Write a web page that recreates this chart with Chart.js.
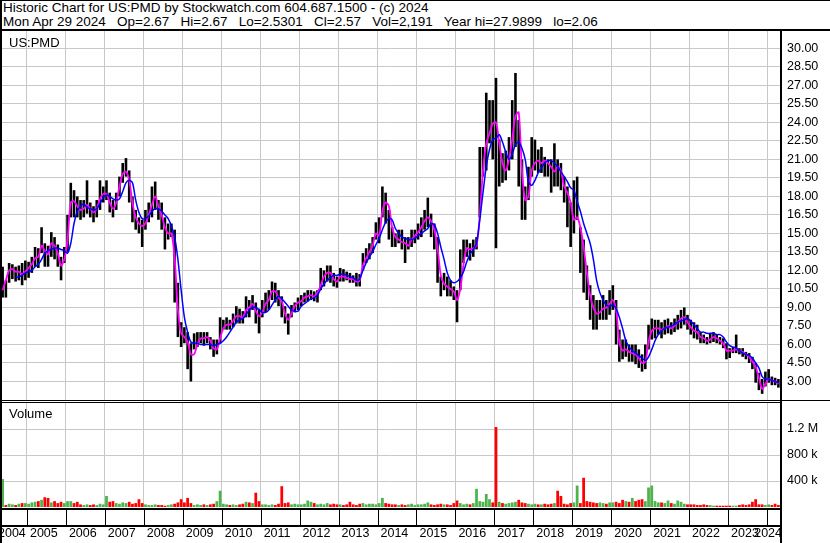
<!DOCTYPE html>
<html>
<head>
<meta charset="utf-8">
<script src="https://cdn.jsdelivr.net/npm/chart.js@4.4.1/dist/chart.umd.min.js"></script>
<style>
  body { margin: 0; background: #fff; }
  #wrap { position: relative; width: 830px; height: 543px; overflow: hidden; background: #fff;
          font-family: "Liberation Sans", Arial, sans-serif; color: #000; }
  .hdr { position: absolute; left: 3px; font-size: 13.5px; line-height: 14px; white-space: pre; }
  .lbl { position: absolute; left: 9px; font-size: 13px; line-height: 15px; white-space: pre; }
  .ln { position: absolute; background: #000; }
  canvas { position: absolute; left: 0; }
</style>
</head>
<body>
<div id="wrap">
  <div class="hdr" style="top:1px">Historic Chart for US:PMD by Stockwatch.com 604.687.1500 - (c) 2024</div>
  <div class="hdr" style="top:15px">Mon Apr 29 2024   Op=2.67   Hi=2.67   Lo=2.5301   Cl=2.57   Vol=2,191   Year hi=27.9899   lo=2.06</div>

  <canvas id="priceChart" width="830" height="369" style="top:31px"></canvas>
  <canvas id="volumeChart" width="830" height="140" style="top:403px"></canvas>

  <div class="lbl" style="top:35px">US:PMD</div>
  <div class="lbl" style="top:406px">Volume</div>

  <!-- frame lines -->
  <div class="ln" style="left:0;top:0;width:830px;height:1px"></div>
  <div class="ln" style="left:0;top:0;width:2px;height:543px"></div>
  <div class="ln" style="left:0;top:29px;width:830px;height:2px"></div>
  <div class="ln" style="left:780px;top:30px;width:2px;height:513px"></div>
  <div class="ln" style="left:0;top:400px;width:830px;height:1px"></div>
  <div class="ln" style="left:0;top:402px;width:782px;height:1px"></div>
  <div class="ln" style="left:0;top:508px;width:782px;height:2px"></div>
  <div class="ln" style="left:0;top:525px;width:782px;height:2px"></div>
</div>

<script>
// monthly bars, May 2004 .. Apr 2024
const startYear = 2004;
const startMonth = 4; // May

// Monthly high
const hi = [
  12.3, 11.2, 12.6, 12.5, 12.3, 12.4, 12.6, 12.8,                         // 2004
  12.7, 13.1, 13.9, 13.8, 15.5, 14.2, 14.0, 15.1, 14.7, 14.1, 13.1, 13.9, // 2005
  16.5, 19.1, 18.5, 18.0, 17.7, 17.7, 19.3, 17.5, 17.2, 17.7, 19.3, 18.8, // 2006
  19.3, 18.3, 17.7, 18.3, 19.6, 20.7, 21.1, 20.1, 18.0, 16.9, 16.3, 16.1, // 2007
  16.9, 17.5, 18.8, 19.2, 17.7, 17.5, 16.3, 15.8, 15.8, 15.3, 11.0, 7.8,  // 2008
  7.4, 7.0, 6.1, 6.9, 7.0, 7.0, 7.0, 7.0, 6.6, 6.4, 6.4, 8.2,             // 2009
  8.0, 8.2, 8.0, 8.5, 9.1, 8.9, 8.7, 9.9, 9.6, 10.0, 9.4, 8.9,            // 2010
  9.6, 10.2, 10.4, 11.1, 11.0, 10.4, 9.9, 9.1, 8.5, 9.2, 9.4, 9.8,        // 2011
  10.0, 10.2, 10.4, 10.4, 10.3, 10.4, 12.2, 12.0, 12.4, 12.4, 11.8, 11.5, // 2012
  12.2, 12.1, 11.9, 11.8, 11.6, 11.8, 11.7, 13.4, 13.8, 14.2, 14.7, 15.9, // 2013
  16.3, 18.8, 18.3, 16.9, 15.5, 15.0, 15.3, 15.3, 14.7, 14.7, 15.3, 15.3, // 2014
  15.8, 16.3, 16.9, 17.9, 16.6, 15.8, 14.7, 11.5, 11.8, 11.5, 11.2, 10.7, // 2015
  10.4, 13.7, 14.5, 14.5, 14.2, 14.5, 14.7, 22.0, 22.0, 26.4, 25.8, 25.8, // 2016
  27.6, 22.6, 21.5, 21.7, 22.8, 25.8, 28.0, 24.2, 21.0, 18.8, 20.4, 22.8, // 2017
  22.6, 21.8, 22.0, 21.2, 21.0, 21.0, 22.3, 21.0, 20.7, 19.6, 18.8, 17.5, // 2018
  19.3, 19.6, 15.5, 14.5, 12.4, 10.8, 10.0, 9.6, 9.6, 10.0, 9.6, 10.4,    // 2019
  10.8, 9.6, 7.2, 6.4, 6.4, 6.0, 6.0, 6.0, 5.6, 5.2, 6.0, 7.6,            // 2020
  8.1, 8.0, 8.0, 7.8, 8.0, 8.1, 7.8, 8.1, 8.4, 8.8, 9.0, 8.4,             // 2021
  8.0, 7.8, 7.6, 7.0, 6.8, 6.6, 6.9, 7.0, 6.8, 6.6, 6.5, 6.1,             // 2022
  5.7, 5.8, 6.8, 5.7, 5.7, 5.4, 5.3, 5.0, 4.5, 3.7, 3.2, 3.8,             // 2023
  4.0, 3.4, 3.3, 3.2                                                      // 2024
];

// Monthly low
const lo = [
  9.8, 9.8, 11.0, 11.3, 11.1, 11.2, 10.8, 11.2,
  11.4, 11.8, 12.3, 12.2, 13.4, 12.3, 12.3, 13.1, 12.9, 12.3, 11.2, 12.6,
  13.5, 16.3, 16.3, 16.3, 16.1, 16.3, 16.6, 16.3, 15.9, 16.3, 16.9, 17.5,
  17.7, 16.7, 16.3, 16.9, 18.0, 19.1, 19.6, 17.5, 15.9, 15.3, 15.0, 13.9,
  15.3, 15.9, 16.3, 16.9, 16.1, 15.3, 13.7, 14.5, 14.7, 9.4, 6.6, 5.8,
  6.1, 4.0, 3.0, 5.6, 5.8, 6.1, 5.9, 6.1, 5.6, 5.0, 5.2, 6.1,
  7.2, 7.2, 7.2, 7.4, 7.7, 7.7, 7.7, 8.2, 8.2, 8.8, 7.7, 6.9,
  8.2, 8.6, 8.8, 9.6, 9.4, 9.1, 8.2, 7.7, 6.8, 8.2, 8.6, 8.8,
  9.1, 9.4, 9.5, 9.6, 9.5, 9.4, 10.4, 10.7, 11.1, 11.0, 10.7, 10.6,
  11.1, 11.1, 11.2, 11.0, 11.0, 10.7, 10.7, 12.0, 12.6, 12.9, 13.4, 14.5,
  14.2, 16.3, 15.8, 14.5, 13.9, 13.9, 14.2, 13.7, 12.6, 13.7, 13.9, 14.2,
  14.5, 14.7, 15.3, 15.5, 14.7, 13.7, 11.0, 9.9, 10.4, 9.9, 9.9, 9.6,
  7.8, 10.4, 12.6, 13.1, 12.8, 13.1, 13.7, 16.3, 19.6, 20.1, 22.3, 21.0,
  13.8, 18.8, 19.1, 19.3, 20.1, 21.0, 22.0, 18.8, 16.1, 16.1, 17.7, 19.6,
  20.1, 19.9, 19.9, 19.6, 19.6, 18.3, 18.8, 18.8, 18.5, 17.5, 15.5, 13.9,
  15.0, 16.1, 11.8, 10.2, 9.6, 8.0, 7.2, 7.2, 8.0, 8.0, 8.0, 8.4,
  8.8, 6.0, 4.6, 4.8, 5.0, 4.6, 4.6, 4.4, 4.1, 3.8, 4.0, 5.6,
  6.4, 6.5, 6.8, 6.5, 6.8, 6.9, 6.8, 7.0, 7.2, 7.3, 7.6, 7.2,
  6.8, 6.5, 6.4, 6.1, 6.1, 6.0, 6.1, 6.2, 6.1, 6.0, 5.7, 4.8,
  4.9, 5.3, 5.3, 5.2, 5.0, 4.8, 4.5, 4.0, 2.9, 2.3, 2.0, 2.6,
  2.9, 2.7, 2.7, 2.5
];

// short moving average (magenta)
const maShort = [
  10.4, 11.2, 12.0, 12.1, 11.9, 11.9, 11.7, 11.9,
  12.2, 12.5, 13.0, 13.1, 14.0, 13.6, 13.3, 14.2, 14.0, 13.4, 12.4, 12.9,
  14.5, 17.5, 17.6, 17.2, 16.9, 17.0, 17.3, 17.0, 16.7, 17.0, 17.8, 18.2,
  18.2, 17.5, 17.0, 17.5, 18.8, 19.8, 20.0, 19.3, 17.5, 16.3, 15.8, 15.6,
  15.8, 16.5, 17.3, 18.0, 17.2, 16.5, 15.5, 15.0, 15.0, 13.0, 8.8, 6.9,
  6.6, 6.2, 5.2, 5.2, 6.0, 6.5, 6.5, 6.6, 6.3, 5.7, 5.6, 6.5,
  7.3, 7.6, 7.6, 7.9, 8.3, 8.3, 8.2, 8.8, 9.0, 9.3, 8.7, 8.3,
  8.6, 9.3, 9.6, 10.3, 10.3, 9.8, 9.5, 8.5, 8.0, 8.5, 9.1, 9.4,
  9.5, 9.8, 9.9, 10.0, 9.9, 10.2, 10.8, 11.5, 11.8, 11.8, 11.3, 11.1,
  11.5, 11.5, 11.4, 11.3, 11.3, 11.1, 11.2, 12.4, 13.0, 13.5, 14.0, 15.0,
  14.8, 16.8, 17.5, 17.2, 15.5, 14.7, 14.5, 14.3, 14.2, 14.0, 14.5, 14.8,
  15.1, 15.5, 16.0, 16.3, 16.0, 15.3, 13.8, 11.6, 10.9, 10.7, 10.5, 10.3,
  9.6, 10.5, 12.5, 13.8, 13.7, 13.8, 14.0, 16.4, 20.1, 22.3, 23.1, 23.9,
  24.0, 22.3, 20.7, 20.1, 21.0, 22.6, 24.5, 24.8, 20.1, 17.7, 18.0, 20.1,
  20.7, 20.9, 20.7, 20.9, 20.7, 20.4, 20.0, 20.4, 20.1, 18.8, 18.3, 17.5,
  16.1, 16.3, 15.5, 13.9, 11.8, 10.0, 9.0, 8.5, 8.6, 8.9, 9.0, 9.3,
  9.6, 8.8, 6.2, 5.5, 5.6, 5.4, 5.3, 5.2, 4.9, 4.5, 4.6, 6.2,
  7.1, 7.3, 7.3, 7.2, 7.3, 7.5, 7.3, 7.5, 7.8, 8.1, 8.2, 7.8,
  7.4, 7.1, 7.0, 6.6, 6.5, 6.3, 6.4, 6.6, 6.5, 6.3, 6.1, 5.5,
  5.5, 5.5, 5.6, 5.5, 5.4, 5.2, 5.0, 4.6, 4.2, 3.3, 2.4, 2.8,
  3.2, 3.1, 3.0, 2.8
];

// long moving average (blue)
const maLong = [
  null, null, null, null, 11.4, 11.5, 11.6, 11.8,
  11.9, 12.0, 12.3, 12.5, 12.9, 13.4, 13.6, 13.7, 13.8, 13.8, 13.7, 13.6,
  13.4, 14.2, 15.8, 16.8, 17.2, 17.4, 17.1, 17.0, 16.9, 17.0, 17.4, 17.9,
  18.1, 18.0, 17.8, 17.7, 17.8, 18.4, 19.1, 19.3, 19.1, 17.7, 16.7, 16.2,
  16.2, 16.4, 16.8, 17.0, 17.0, 16.8, 16.5, 16.2, 15.6, 14.7, 12.9, 10.4,
  8.2, 7.0, 6.2, 6.1, 6.1, 6.0, 6.0, 6.0, 6.0, 5.9, 6.0, 6.1,
  6.3, 6.6, 7.0, 7.4, 7.8, 8.0, 8.1, 8.4, 8.8, 9.0, 9.0, 8.8,
  8.6, 8.6, 8.8, 9.2, 9.6, 9.9, 9.7, 9.4, 9.1, 8.8, 8.7, 8.7,
  9.1, 9.3, 9.5, 9.7, 9.8, 10.0, 10.5, 10.9, 11.2, 11.4, 11.6, 11.6,
  11.7, 11.7, 11.6, 11.5, 11.4, 11.2, 11.3, 12.0, 12.6, 13.1, 13.5, 14.1,
  14.6, 15.3, 15.9, 16.2, 16.1, 15.4, 15.0, 14.7, 14.6, 14.5, 14.5, 14.6,
  14.8, 15.0, 15.2, 15.4, 15.8, 15.7, 15.0, 13.9, 12.9, 11.8, 11.2, 11.0,
  11.1, 11.4, 11.9, 12.7, 13.3, 13.7, 14.2, 16.1, 18.3, 20.4, 21.8, 22.6,
  22.7, 23.0, 22.4, 21.6, 21.0, 21.4, 22.2, 22.4, 21.9, 21.0, 19.2, 18.9,
  19.3, 19.9, 20.3, 20.7, 20.9, 20.9, 20.7, 20.4, 20.0, 19.6, 19.2, 18.7,
  18.5, 17.6, 16.8, 15.8, 15.0, 14.2, 12.9, 11.2, 10.2, 9.6, 9.2, 9.1,
  9.2, 8.9, 8.2, 7.3, 6.3, 5.8, 5.5, 5.3, 5.1, 4.9, 4.7, 5.0,
  5.6, 6.3, 6.8, 7.1, 7.3, 7.4, 7.5, 7.6, 7.8, 7.9, 8.0, 8.1,
  7.9, 7.6, 7.3, 7.0, 7.0, 6.9, 6.9, 6.9, 6.8, 6.8, 6.6, 6.2,
  5.9, 5.8, 5.7, 5.5, 5.3, 5.2, 5.1, 4.9, 4.5, 4.1, 3.4, 3.2,
  3.2, 3.1, 3.0, 2.9
];

// volume, thousands of shares (largest day in each month)
const volume = [
  430, 30, 50, 40, 30, 50, 60, 60,
  50, 70, 80, 90, 110, 150, 140, 70, 90, 60, 80, 60,
  90, 90, 60, 80, 40, 30, 40, 30, 40, 30, 50, 40,
  170, 80, 90, 60, 50, 70, 60, 80, 50, 60, 120, 60,
  40, 30, 30, 40, 30, 30, 20, 30, 40, 50, 70, 120,
  70, 140, 60, 30, 40, 30, 40, 30, 40, 50, 90, 250,
  50, 40, 30, 40, 30, 40, 50, 80, 70, 60, 220, 90,
  40, 40, 30, 40, 30, 50, 320, 60, 70, 40, 50, 40,
  40, 50, 100, 80, 60, 40, 50, 40, 60, 40, 50, 40,
  40, 30, 40, 80, 40, 30, 50, 60, 40, 50, 50, 40,
  60, 140, 60, 50, 40, 40, 30, 40, 30, 40, 50, 30,
  40, 40, 50, 70, 40, 30, 40, 50, 40, 40, 30, 60,
  100, 60, 40, 50, 40, 60, 280, 90, 80, 200, 120, 70,
  1230, 80, 60, 50, 60, 70, 80, 110, 70, 60, 50, 40,
  50, 40, 40, 50, 40, 50, 60, 250, 170, 50, 40, 60,
  70, 330, 60, 450, 90, 80, 70, 60, 70, 60, 50, 70,
  70, 80, 60, 110, 90, 80, 140, 90, 110, 120, 90, 300,
  330, 90, 70, 70, 60, 100, 60, 50, 100, 80, 50, 40,
  40, 40, 30, 30, 40, 30, 30, 20, 20, 20, 20, 20,
  20, 20, 20, 30, 40, 30, 40, 80, 120, 40, 40, 30,
  40, 30, 50, 30
];

const priceTicks = [3.0, 4.5, 6.0, 7.5, 9.0, 10.5, 12.0, 13.5, 15.0, 16.5, 18.0,
                    19.5, 21.0, 22.5, 24.0, 25.5, 27.0, 28.5, 30.0];
const volTicks = [400, 800, 1200];
const volTickLabels = ['400 k', '800 k', '1.2 M'];
const yearLabels = ['2004', '2005', '2006', '2007', '2008', '2009', '2010', '2011', '2012', '2013',
                    '2014', '2015', '2016', '2017', '2018', '2019', '2020', '2021', '2022', '2023', '2024'];

const FONT = '"Liberation Sans", Arial, sans-serif';
const GRID = '#c8c8c8';

const months = hi.map((_, i) => {
  const t = startMonth + i;
  return (startYear + Math.floor(t / 12)) + '-' + String(t % 12 + 1).padStart(2, '0');
});

// vertical grid only at January boundaries
function yearGrid(c) {
  if (!c.tick) return 'rgba(0,0,0,0)';
  const m = months[c.tick.value];
  return m && m.endsWith('-01') ? GRID : 'rgba(0,0,0,0)';
}

function xScale() {
  return {
    type: 'category',
    offset: true,
    ticks: { display: false, autoSkip: false },
    grid: { color: yearGrid, offset: true, drawTicks: false },
    border: { display: false },
  };
}

// Price chart
new Chart(document.getElementById('priceChart'), {
  type: 'bar',
  data: {
    labels: months,
    datasets: [
      {
        label: 'Price',
        data: lo.map((l, i) => [l, hi[i]]),
        backgroundColor: '#000',
        borderWidth: 0,
        barPercentage: 1,
        categoryPercentage: 0.8,
        order: 3,
      },
      {
        type: 'line',
        label: 'MA short',
        data: maShort,
        borderColor: '#ff00ff',
        borderWidth: 1.8,
        pointRadius: 0,
        tension: 0.3,
        order: 2,
      },
      {
        type: 'line',
        label: 'MA long',
        data: maLong,
        borderColor: '#0000ff',
        borderWidth: 1.5,
        pointRadius: 0,
        tension: 0.3,
        order: 1,
      },
    ],
  },
  options: {
    responsive: false,
    animation: false,
    devicePixelRatio: 1,
    layout: { padding: { left: 1, right: 0, top: 0, bottom: 0 } },
    plugins: { legend: { display: false }, tooltip: { enabled: false } },
    scales: {
      x: Object.assign(xScale(), {
        afterFit: (s) => { s.height = 0; },
      }),
      y: {
        type: 'linear',
        position: 'right',
        min: 1.5,
        max: 31.4,
        afterBuildTicks: (s) => { s.ticks = priceTicks.map((v) => ({ value: v })); },
        afterFit: (s) => { s.width = 50; s.paddingTop = 0; s.paddingBottom = 0; },
        ticks: {
          padding: 7,
          color: '#000',
          font: { family: FONT, size: 12.5 },
          callback: (v) => Number(v).toFixed(2),
        },
        grid: { color: GRID, drawTicks: false },
        border: { display: false },
      },
    },
  },
});

// year band + labels under the volume panel
const yearBand = {
  id: 'yearBand',
  afterDraw(chart) {
    const ctx = chart.ctx;
    const xs = chart.scales.x;
    const w = xs.getPixelForValue(1) - xs.getPixelForValue(0);
    const x0 = xs.getPixelForValue(0) - w / 2;
    const area = chart.chartArea;
    ctx.save();
    ctx.font = '12.5px ' + FONT;
    ctx.fillStyle = '#000';
    ctx.strokeStyle = '#000';
    ctx.lineWidth = 1;
    ctx.textBaseline = 'middle';
    ctx.textAlign = 'left';
    yearLabels.forEach((yr) => {
      const k = (Number(yr) - startYear) * 12 - startMonth;
      const bx = x0 + k * w;
      if (bx > area.left + 2 && bx < area.right) {
        const px = Math.round(bx) + 0.5;
        ctx.beginPath();
        ctx.moveTo(px, area.bottom + 1);
        ctx.lineTo(px, area.bottom + 19);
        ctx.stroke();
      }
      const tw = ctx.measureText(yr).width;
      let tx = bx + 3;
      tx = Math.min(Math.max(tx, -2), 782 - tw);
      ctx.fillText(yr, tx, area.bottom + 27);
    });
    ctx.restore();
  },
};

// Volume chart
const mid = hi.map((h, i) => (h + lo[i]) / 2);
new Chart(document.getElementById('volumeChart'), {
  type: 'bar',
  data: {
    labels: months,
    datasets: [
      {
        label: 'Volume',
        data: volume,
        backgroundColor: volume.map((_, i) => (i === 0 || mid[i] >= mid[i - 1]) ? '#4cb44c' : '#ff0000'),
        borderWidth: 0,
        barPercentage: 1,
        categoryPercentage: 0.85,
      },
    ],
  },
  options: {
    responsive: false,
    animation: false,
    devicePixelRatio: 1,
    layout: { padding: { left: 1, right: 0, top: 0, bottom: 0 } },
    plugins: { legend: { display: false }, tooltip: { enabled: false } },
    scales: {
      x: Object.assign(xScale(), {
        afterFit: (s) => { s.height = 36; },
      }),
      y: {
        type: 'linear',
        position: 'right',
        min: 0,
        max: 1600,
        afterBuildTicks: (s) => { s.ticks = volTicks.map((v) => ({ value: v })); },
        afterFit: (s) => { s.width = 50; s.paddingTop = 0; s.paddingBottom = 0; },
        ticks: {
          padding: 7,
          color: '#000',
          font: { family: FONT, size: 12.5 },
          callback: (v) => volTickLabels[volTicks.indexOf(v)],
        },
        grid: { color: GRID, drawTicks: false },
        border: { display: false },
      },
    },
  },
  plugins: [yearBand],
});
</script>
</body>
</html>
